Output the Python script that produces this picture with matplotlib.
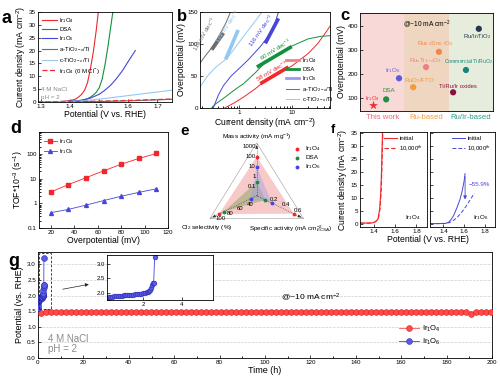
import numpy as np
import matplotlib
matplotlib.use('Agg')
import matplotlib.pyplot as plt
from matplotlib.patches import Rectangle, Polygon
from matplotlib.lines import Line2D

plt.rcParams['font.family'] = ['Liberation Sans', 'DejaVu Sans']
plt.rcParams['mathtext.fontset'] = 'custom'
plt.rcParams['mathtext.rm'] = 'Liberation Sans'
plt.rcParams['mathtext.it'] = 'Liberation Sans:italic'
plt.rcParams['mathtext.bf'] = 'Liberation Sans:bold'
plt.rcParams['font.size'] = 5
plt.rcParams['axes.linewidth'] = 0.6
for k in ('xtick', 'ytick'):
    plt.rcParams[k + '.direction'] = 'in'
    plt.rcParams[k + '.major.size'] = 2
    plt.rcParams[k + '.minor.size'] = 1.2
    plt.rcParams[k + '.major.width'] = 0.5
    plt.rcParams[k + '.labelsize'] = 4.5
    plt.rcParams[k + '.major.pad'] = 1.5

RED = '#f2262b'
GREEN = '#12913a'
BLUE = '#4646d8'
GRAY = '#6d6d6d'
LBLUE = '#92c8f2'
IR4 = r'Ir$_1$O$_4$'
IR6 = r'Ir$_1$O$_6$'

# ---- data: panel a (LSV) ----
a_ir4_v = [1.29, 1.33, 1.36, 1.39, 1.41, 1.42, 1.43, 1.44, 1.45, 1.46, 1.47, 1.48, 1.49, 1.497]
a_ir4_j = [0.05, 0.08, 0.15, 0.4, 0.8, 1.2, 2.0, 3.0, 4.6, 7.5, 13.0, 19.5, 28.0, 35]
a_dsa_v = [1.29, 1.35, 1.40, 1.43, 1.45, 1.46, 1.47, 1.48, 1.49, 1.50, 1.51, 1.52, 1.53, 1.54, 1.547]
a_dsa_j = [0.03, 0.08, 0.2, 0.45, 0.9, 1.3, 1.9, 2.7, 3.8, 5.5, 8.8, 14.5, 21.5, 29.5, 35]
a_ir6_v = [1.29, 1.35, 1.40, 1.44, 1.47, 1.50, 1.52, 1.54, 1.56, 1.58, 1.60, 1.624]
a_ir6_j = [0.03, 0.1, 0.3, 0.7, 1.5, 3.0, 4.6, 6.6, 9.2, 12.2, 15.8, 20.0]
a_atio_v = [1.29, 1.40, 1.50, 1.60, 1.70, 1.75]
a_atio_j = [0.0, 0.05, 0.18, 0.45, 0.85, 1.05]
a_ctio_v = [1.29, 1.40, 1.45, 1.50, 1.55, 1.60, 1.65, 1.70, 1.75]
a_ctio_j = [0.05, 0.2, 0.5, 1.1, 1.8, 2.5, 3.2, 3.9, 4.6]
a_cl0_v = [1.29, 1.40, 1.50, 1.60, 1.70, 1.75]
a_cl0_j = [0.0, 0.1, 0.3, 0.6, 0.95, 1.15]

# ---- data: panel b (Tafel) ----
b_ir4_j = [0.53, 0.8, 1.2, 2, 3, 5, 10, 20, 30, 45, 52]
b_ir4_eta = [0, 8, 17, 30, 42, 52, 66, 85, 100, 120, 128]
b_dsa_j = [0.3, 0.35, 0.5, 0.8, 1.2, 2, 3, 5, 10, 20, 35, 52]
b_dsa_eta = [0, 6, 15, 28, 38, 55, 70, 82, 97, 108, 112, 113]
b_ir6_j = [0.32, 0.4, 0.5, 0.7, 1.0, 1.5, 2.5, 3.5, 4.5, 5.5]
b_ir6_eta = [0, 20, 35, 50, 62, 76, 96, 112, 127, 150]
b_ctio_j = [0.18, 0.25, 0.35, 0.59, 0.9, 1.2, 1.7, 2.68]
b_ctio_eta = [33, 50, 63, 78, 98, 112, 128, 150]
b_atio_j = [0.18, 0.22, 0.28, 0.35, 0.44, 0.55, 0.68]
b_atio_eta = [70, 80, 91, 103, 117, 132, 150]
tafel_j = [[2.5, 8.5], [2.15, 9.8], [3.1, 5.5], [0.55, 0.95], [0.3, 0.5]]
tafel_eta = [[38, 64], [64, 96], [101, 140], [76, 122], [91, 117]]
tafel_text = ['58 mV dec$^{-1}$', '60 mV dec$^{-1}$', '116 mV dec$^{-1}$',
              '119 mV dec$^{-1}$', '119 mV dec$^{-1}$']

# ---- data: panel c (comparison) ----
c_names = [IR4, 'DSA', IR6, r'RuO$_2$/FTO', r'Ru$_x$Ti$_{1-x}$O$_2$',
           r'Ru$_{0.3}$Sn$_{0.7}$O$_2$', 'Ti/Ru/Ir oxides',
           r'Commercial Ti/RuO$_2$', r'Ru/Ir/TiO$_2$']
c_x = [0.29, 0.59, 0.88, 1.2, 1.49, 1.78, 2.1, 2.39, 2.68]
c_eta = [71, 96, 183, 146, 229, 292, 125, 217, 387]
c_colors = ['#f03030', '#1e9040', '#5a5ae0', '#f39a3a', '#f08080', '#f08848',
            '#8b1040', '#14877a', '#243552']
c_groups = ['This work', 'Ru-based', 'Ru/Ir-based']

# ---- data: panel d (TOF) ----
d_eta = [20, 35, 50, 65, 80, 95, 110]
d_tof_ir4 = [2.9, 5.8, 11, 21, 39, 67, 107]
d_tof_ir6 = [0.42, 0.57, 0.85, 1.3, 1.95, 2.8, 3.9]

# ---- data: panel e (radar) ----
e_series = [IR4, 'DSA', IR6]
e_mass = [100, 0.3, 10]
e_spec = [0.53, 0.06, 0.17]
e_sel = [100, 91, 36]

# ---- data: panel f (stability LSV) ----
f_ir4_init_v = [1.27, 1.32, 1.36, 1.39, 1.41, 1.43, 1.44, 1.455, 1.465, 1.472, 1.478, 1.482]
f_ir4_init_j = [0.5, 0.5, 0.5, 0.6, 0.9, 1.6, 2.2, 6.0, 12.0, 20.0, 30.0, 36.0]
f_ir4_end_v = [1.27, 1.32, 1.36, 1.39, 1.41, 1.43, 1.443, 1.458, 1.468, 1.475, 1.481, 1.485]
f_ir4_end_j = [0.5, 0.5, 0.5, 0.6, 0.9, 1.5, 2.2, 6.0, 12.0, 20.0, 30.0, 36.0]
f_ir6_init_v = [1.27, 1.35, 1.42, 1.45, 1.48, 1.50, 1.53, 1.56, 1.58, 1.60, 1.61]
f_ir6_init_j = [0.3, 0.3, 0.4, 0.8, 2.2, 3.5, 6.3, 9.5, 12.5, 16.5, 19.5]
f_ir6_end_v = [1.27, 1.35, 1.42, 1.46, 1.50, 1.54, 1.58, 1.62, 1.66, 1.70]
f_ir6_end_j = [0.3, 0.3, 0.35, 0.7, 1.6, 3.0, 4.8, 7.0, 9.5, 12.0]

# ---- data: panel g (chronopotentiometry) ----
g_ir4_t = np.arange(1.5, 200, 2.2)
g_ir4_v = [1.45, 1.47, 1.48, 1.48, 1.48, 1.48, 1.48, 1.48, 1.48, 1.48,
           1.48, 1.48, 1.48, 1.48, 1.47, 1.47, 1.46, 1.47, 1.47, 1.47,
           1.48, 1.48, 1.48, 1.48, 1.48, 1.48, 1.48, 1.48, 1.48, 1.48,
           1.48, 1.48, 1.48, 1.48, 1.48, 1.48, 1.48, 1.48, 1.48, 1.48,
           1.48, 1.48, 1.48, 1.48, 1.48, 1.47, 1.47, 1.47, 1.47, 1.46,
           1.46, 1.47, 1.47, 1.48, 1.48, 1.48, 1.48, 1.48, 1.48, 1.48,
           1.48, 1.48, 1.48, 1.48, 1.48, 1.48, 1.48, 1.48, 1.48, 1.49,
           1.49, 1.49, 1.49, 1.48, 1.48, 1.48, 1.48, 1.48, 1.48, 1.48,
           1.48, 1.48, 1.48, 1.48, 1.48, 1.47, 1.42, 1.46, 1.47, 1.47, 1.47]
g_ir6_t = [0.0, 0.05, 0.1, 0.15, 0.2, 0.25, 0.3, 0.4, 0.5, 0.6,
           0.7, 0.8, 0.9, 1.0, 1.1, 1.2, 1.3, 1.4, 1.5, 1.6,
           1.7, 1.8, 1.9, 2.0, 2.1, 2.2, 2.25, 2.3, 2.35, 2.4,
           2.45, 2.5, 2.55, 2.6]
g_ir6_v = [1.60, 1.68, 1.75, 1.80, 1.83, 1.85, 1.86, 1.87, 1.88, 1.89,
           1.895, 1.90, 1.905, 1.91, 1.915, 1.92, 1.925, 1.93, 1.935, 1.94,
           1.95, 1.96, 1.97, 1.98, 1.99, 2.01, 2.03, 2.06, 2.10, 2.17,
           2.27, 2.33, 2.35, 3.22]

W, H = 500, 380


def box(x0, y0, x1, y1):
    # pixel box (top-left origin) -> figure fraction rect
    return [x0 / W, 1 - y1 / H, (x1 - x0) / W, (y1 - y0) / H]


fig = plt.figure(figsize=(5, 3.8), dpi=100)
fig.patch.set_facecolor('white')


def panel_label(x, y, s, size=13):
    fig.text(x / W, 1 - y / H, s, fontsize=size, fontweight='bold', va='baseline')


# ================= a =================
ax = fig.add_axes(box(38, 12, 172, 102))
ax.plot(a_ir4_v, a_ir4_j, color=RED, lw=0.8, label=IR4)
ax.plot(a_dsa_v, a_dsa_j, color=GREEN, lw=0.8, label='DSA')
ax.plot(a_ir6_v, a_ir6_j, color=BLUE, lw=0.8, label=IR6)
ax.plot(a_atio_v, a_atio_j, color=GRAY, lw=0.8, label=r'a-TiO$_{2-x}$/Ti')
ax.plot(a_ctio_v, a_ctio_j, color=LBLUE, lw=0.8, label=r'c-TiO$_{2-x}$/Ti')
ax.plot(a_cl0_v, a_cl0_j, color=RED, lw=0.9, ls=(0, (4, 2)), label=IR4 + r' (0 M Cl$^{-}$)')
ax.set_xlim(1.29, 1.75)
ax.set_ylim(0, 35)
ax.set_xticks([1.3, 1.4, 1.5, 1.6, 1.7])
ax.set_yticks(range(0, 36, 5))
ax.legend(loc='upper left', fontsize=4.3, frameon=False, handlelength=2.4,
          labelspacing=0.32, borderaxespad=0.3, handletextpad=0.5)
ax.text(1.3, 4.3, '4 M NaCl', color='#8a8a8a', fontsize=4.5)
ax.text(1.3, 1.3, 'pH = 2', color='#8a8a8a', fontsize=4.5)
ax.set_xlabel('Potential (V vs. RHE)', fontsize=6.2, labelpad=1)
ax.set_ylabel('Current density (mA cm$^{-2}$)', fontsize=6.2, labelpad=1)
panel_label(1, 23, 'a')

# ================= b =================
ax = fig.add_axes(box(200, 12, 330, 108))
ax.set_xscale('log')
ax.plot(b_ir4_j, b_ir4_eta, color=RED, lw=0.7)
ax.plot(b_dsa_j, b_dsa_eta, color=GREEN, lw=0.7)
ax.plot(b_ir6_j, b_ir6_eta, color=BLUE, lw=0.7)
ax.plot(b_ctio_j, b_ctio_eta, color=LBLUE, lw=0.7)
ax.plot(b_atio_j, b_atio_eta, color=GRAY, lw=0.7)
tcols = [RED, GREEN, BLUE, LBLUE, GRAY]
tpos = [(4.1, 58, 30), (4.8, 91, 32), (2.6, 121, 55), (0.6, 128, 57), (0.225, 116, 60)]
for jj, ee, col, txt, (tx, ty, rot) in zip(tafel_j, tafel_eta, tcols, tafel_text, tpos):
    ax.plot(jj, ee, color=col, lw=2.6, solid_capstyle='butt')
    ax.text(tx, ty, txt, color=col, fontsize=4.3, rotation=rot, ha='center', va='center')
ax.set_xlim(0.18, 52)
ax.set_ylim(0, 150)
ax.set_yticks([0, 50, 100, 150])
ax.set_xticks([1, 10])
ax.set_xticklabels(['1', '10'])
hb = [Line2D([], [], color='#f48080', lw=2), Line2D([], [], color=GREEN, lw=2),
      Line2D([], [], color='#9a9af0', lw=2), Line2D([], [], color=GRAY, lw=0.7),
      Line2D([], [], color=LBLUE, lw=0.7)]
ax.legend(hb, [IR4, 'DSA', IR6, r'a-TiO$_{2-x}$/Ti', r'c-TiO$_{2-x}$/Ti'],
          loc='lower right', fontsize=4.3, frameon=False, handlelength=2.2,
          labelspacing=0.3, borderaxespad=0.2, handletextpad=0.5,
          bbox_to_anchor=(1.06, 0.0))
ax.set_xlabel('Current density (mA cm$^{-2}$)', fontsize=6.2, labelpad=1)
ax.set_ylabel('Overpotential (mV)', fontsize=6.2, labelpad=1)
panel_label(177, 21, 'b', size=12)

# ================= c =================
ax = fig.add_axes(box(360, 13, 493, 111))
ax.axvspan(0, 1, color='#f9d8d8', lw=0)
ax.axvspan(1, 2, color='#eed6c0', lw=0)
ax.axvspan(2, 3, color='#e6eddc', lw=0)
for i, (x, y, col) in enumerate(zip(c_x, c_eta, c_colors)):
    if i == 0:
        ax.scatter(x, y, marker='*', s=45, color=col, zorder=3, lw=0)
    else:
        ax.scatter(x, y, s=20, color=col, zorder=3, edgecolors='none')
c_lab = [(0.27, 101, 'center', 4.2), (0.66, 132, 'center', 4.4), (0.74, 214, 'center', 4.4),
         (1.0, 173, 'left', 4.4), (1.47, 258, 'center', 4.4), (1.69, 328, 'center', 4.4),
         (1.78, 148, 'left', 4.2), (2.45, 250, 'center', 3.7), (2.64, 355, 'center', 4.3)]
for name, col, (lx, ly, ha, fs) in zip(c_names, c_colors, c_lab):
    ax.text(lx, ly, name, color=col, fontsize=fs, ha=ha, va='center')
ax.text(1.51, 408, '@~10 mA cm$^{-2}$', fontsize=4.8, ha='center', va='center')
ax.set_xlim(0, 3)
ax.set_ylim(48, 452)
ax.set_yticks([100, 200, 300, 400])
ax.set_xticks([0.5, 1.5, 2.5])
ax.set_xticklabels(c_groups, fontsize=5.6)
for lab, col in zip(ax.get_xticklabels(), ['#ee6878', '#f0a040', '#2a9d90']):
    lab.set_color(col)
ax.tick_params(axis='x', length=0, pad=2.5)
ax.set_ylabel('Overpotential (mV)', fontsize=6.2, labelpad=1)
panel_label(340, 20, 'c', size=12)

# ================= d =================
ax = fig.add_axes(box(39, 132, 168, 228))
ax.semilogy(d_eta, d_tof_ir4, '-s', color=RED, mfc=RED, mec=RED, ms=2.6, lw=0.6, label=IR4)
ax.semilogy(d_eta, d_tof_ir6, '-^', color=BLUE, mfc=BLUE, mec=BLUE, ms=2.8, lw=0.6, label=IR6)
ax.set_xlim(10, 120)
ax.set_ylim(0.1, 800)
ax.set_yticks([0.1, 1, 10, 100])
ax.set_yticklabels(['0.1', '1', '10', '100'])
ax.set_xticks([20, 40, 60, 80, 100, 120])
ax.legend(loc='upper left', fontsize=4.3, frameon=False, handlelength=2.2,
          labelspacing=0.3, borderaxespad=0.4, handletextpad=0.4)
ax.set_xlabel('Overpotential (mV)', fontsize=6.2, labelpad=1)
ax.set_ylabel(r'TOF*10$^{-3}$ (s$^{-1}$)', fontsize=6.2, labelpad=1)
panel_label(10, 133, 'd')

# ================= e =================
ax = fig.add_axes(box(195, 130, 335, 235))
ax.set_xlim(195, 335)
ax.set_ylim(235, 130)
ax.axis('off')
cx, cy = 256.7, 195.7
ca, sa = np.cos(np.radians(26)), np.sin(np.radians(26))
dirs = {'mass': (0.0, -1.0), 'spec': (ca, sa), 'sel': (-ca, sa)}
scale = {'mass': lambda v: 10 * (np.log10(v) + 1.9),
         'spec': lambda v: 5.5 + 67.5 * v,
         'sel': lambda v: 0.55 * (v - 24)}


def ept(axis, v=None, r=None):
    if r is None:
        r = scale[axis](v)
    dx, dy = dirs[axis]
    return cx + dx * r, cy + dy * r


tips = [ept('mass', r=53), ept('spec', r=52), ept('sel', r=52)]
ax.add_patch(Polygon(tips, closed=True, fill=False, ec='#9a9a9a', lw=0.4))
e_fill = ['#f4a6a6', '#8fa76a', '#a0a0e8']
e_alpha = [0.6, 0.55, 0.45]
e_col = [RED, GREEN, BLUE]
for k in range(3):
    pts = [ept('mass', e_mass[k]), ept('spec', e_spec[k]), ept('sel', e_sel[k])]
    ax.add_patch(Polygon(pts, closed=True, fc=e_fill[k], ec='none', alpha=e_alpha[k], zorder=2 + k))
for tx, ty in tips:
    ax.plot([cx, tx], [cy, ty], color='#333333', lw=0.5, ls=':', zorder=6)
    ax.annotate('', xy=(tx, ty), xytext=(cx + (tx - cx) * 0.88, cy + (ty - cy) * 0.88),
                arrowprops=dict(arrowstyle='-|>', lw=0.5, color='#333333',
                                mutation_scale=4), zorder=6)
for k in range(3):
    pts = [ept('mass', e_mass[k]), ept('spec', e_spec[k]), ept('sel', e_sel[k])]
    for px, py in pts:
        ax.plot(px, py, 'o', color=e_col[k], ms=2.8, mec='none', zorder=8)
for v, s in zip([0.1, 1, 10, 100, 1000], ['0.1', '1', '10', '100', '1000']):
    px, py = ept('mass', v)
    ax.text(px - 1, py, s, fontsize=4.3, ha='right', va='center', zorder=9)
for v, s in zip([0.2, 0.4, 0.6], ['0.2', '0.4', '0.6']):
    px, py = ept('spec', v)
    ax.text(px, py - 5, s, fontsize=4.3, ha='center', va='center', zorder=9)
for v, s in zip([40, 60, 80, 100], ['40', '60', '80', '100']):
    px, py = ept('sel', v)
    ax.text(px + 1, py + 4.5, s, fontsize=4.3, ha='center', va='center', zorder=9)
ax.text(257, 136.5, 'Mass activity (mA mg$^{-1}$)', fontsize=4.6, ha='center', va='center')
ax.text(207, 227.5, r'Cl$_2$ selectivity (%)', fontsize=4.6, ha='center', va='center')
ax.text(249, 228.5, r'Specific activity (mA cm$^{-2}_{ECSA}$)', fontsize=4.6,
        ha='left', va='center', clip_on=True)
for k, (name, col) in enumerate(zip(e_series, e_col)):
    ax.plot(297, 149 + 8.8 * k, 'o', color=col, ms=2.8, mec='none')
    ax.text(305, 149 + 8.8 * k, name, fontsize=4.6, va='center')
panel_label(180, 135, 'e', size=11)

# ================= f =================
axl = fig.add_axes(box(360, 132, 427, 227))
axr = fig.add_axes(box(430, 132, 495, 227))
axl.plot(f_ir4_init_v, f_ir4_init_j, color=RED, lw=0.8, label='initial')
axl.plot(f_ir4_end_v, f_ir4_end_j, color=RED, lw=0.8, ls=(0, (4, 2)), label='10,000$^{th}$')
axr.plot(f_ir6_init_v, f_ir6_init_j, color=BLUE, lw=0.7, label='initial')
axr.plot(f_ir6_end_v, f_ir6_end_j, color=BLUE, lw=0.7, ls=(0, (4, 2)), label='10,000$^{th}$')
axr.annotate('', xy=(1.61, 8.5), xytext=(1.61, 19.5),
             arrowprops=dict(arrowstyle='-|>', lw=0.6, color=BLUE, mutation_scale=5))
axr.text(1.64, 15.5, '\u221255.9%', color=BLUE, fontsize=4.5, va='center')
for a_, name in ((axl, IR4), (axr, IR6)):
    a_.set_xlim(1.27, 1.9)
    a_.set_ylim(-1, 35.5)
    a_.set_xticks([1.4, 1.6, 1.8])
    a_.set_yticks(range(0, 36, 5))
    a_.text(1.84, 1.0, name, fontsize=4.5, ha='right', va='bottom')
    a_.legend(loc='upper right', fontsize=4.3, frameon=False, handlelength=2.2,
              labelspacing=0.3, borderaxespad=0.3, handletextpad=0.4)
axr.set_yticklabels([])
axl.set_ylabel('Current density (mA cm$^{-2}$)', fontsize=6.2, labelpad=1)
fig.text(428 / W, 1 - 240 / H, 'Potential (V vs. RHE)', fontsize=6.2, ha='center', va='center')
panel_label(331, 133, 'f', size=9)

# ================= g =================
ax = fig.add_axes(box(38, 252, 492, 358))
ax.yaxis.grid(True, ls='--', color='#cfcfcf', lw=0.5)
ax.set_axisbelow(True)
ax.plot(g_ir4_t, g_ir4_v, '-o', color='#f25a5a', mfc='#ff4a4a', mec='#e01818',
        ms=4.2, mew=0.4, lw=0.6, label=IR4, zorder=3)
ax.plot(g_ir6_t, g_ir6_v, '-o', color=BLUE, mfc='#5a5ae8', mec='#2a2ab0',
        ms=4.2, mew=0.4, lw=0.6, label=IR6, zorder=4)
ax.add_patch(Rectangle((0.3, 1.57), 5.3, 1.79, fill=False, ls=(0, (3, 2)), lw=0.6, ec='#222222', zorder=5))
ax.annotate('', xy=(23.6, 2.38), xytext=(9.7, 2.19),
            arrowprops=dict(arrowstyle='-|>', lw=0.5, color='#222222', mutation_scale=5))
ax.set_xlim(0, 200)
ax.set_ylim(0, 3.4)
ax.set_xticks(range(0, 201, 20))
ax.set_xticks(range(10, 200, 20), minor=True)
ax.set_yticks([0, 0.5, 1.0, 1.5, 2.0, 2.5, 3.0])
ax.set_yticklabels(['0.0', '0.5', '1.0', '1.5', '2.0', '2.5', '3.0'])
ax.text(4.4, 0.52, '4 M NaCl', color='#8a8a8a', fontsize=7)
ax.text(4.4, 0.2, 'pH = 2', color='#8a8a8a', fontsize=7)
ax.text(107, 1.94, '@~10 mA cm$^{-2}$', fontsize=6, va='center')
ax.legend(loc='lower left', bbox_to_anchor=(0.78, 0.04), fontsize=5.5, frameon=False,
          handlelength=2.6, labelspacing=0.4, handletextpad=0.4)
ax.set_xlabel('Time (h)', fontsize=6.5, labelpad=1)
ax.set_ylabel('Potential (vs. RHE)', fontsize=6.5, labelpad=2)
panel_label(8, 266, 'g')

axi = fig.add_axes(box(107, 255, 213, 300))
axi.plot(g_ir6_t, g_ir6_v, '-o', color=BLUE, mfc='#5a5ae8', mec='#2a2ab0',
         ms=3.4, mew=0.4, lw=0.6)
axi.set_xlim(0.15, 5.6)
axi.set_ylim(1.75, 3.3)
axi.set_xticks([2, 4])
axi.set_yticks([2.0, 2.5, 3.0])
axi.set_yticklabels(['2.0', '2.5', '3.0'])
axi.tick_params(labelsize=4.3)

fig.savefig('out.png', dpi=100, facecolor='white')
